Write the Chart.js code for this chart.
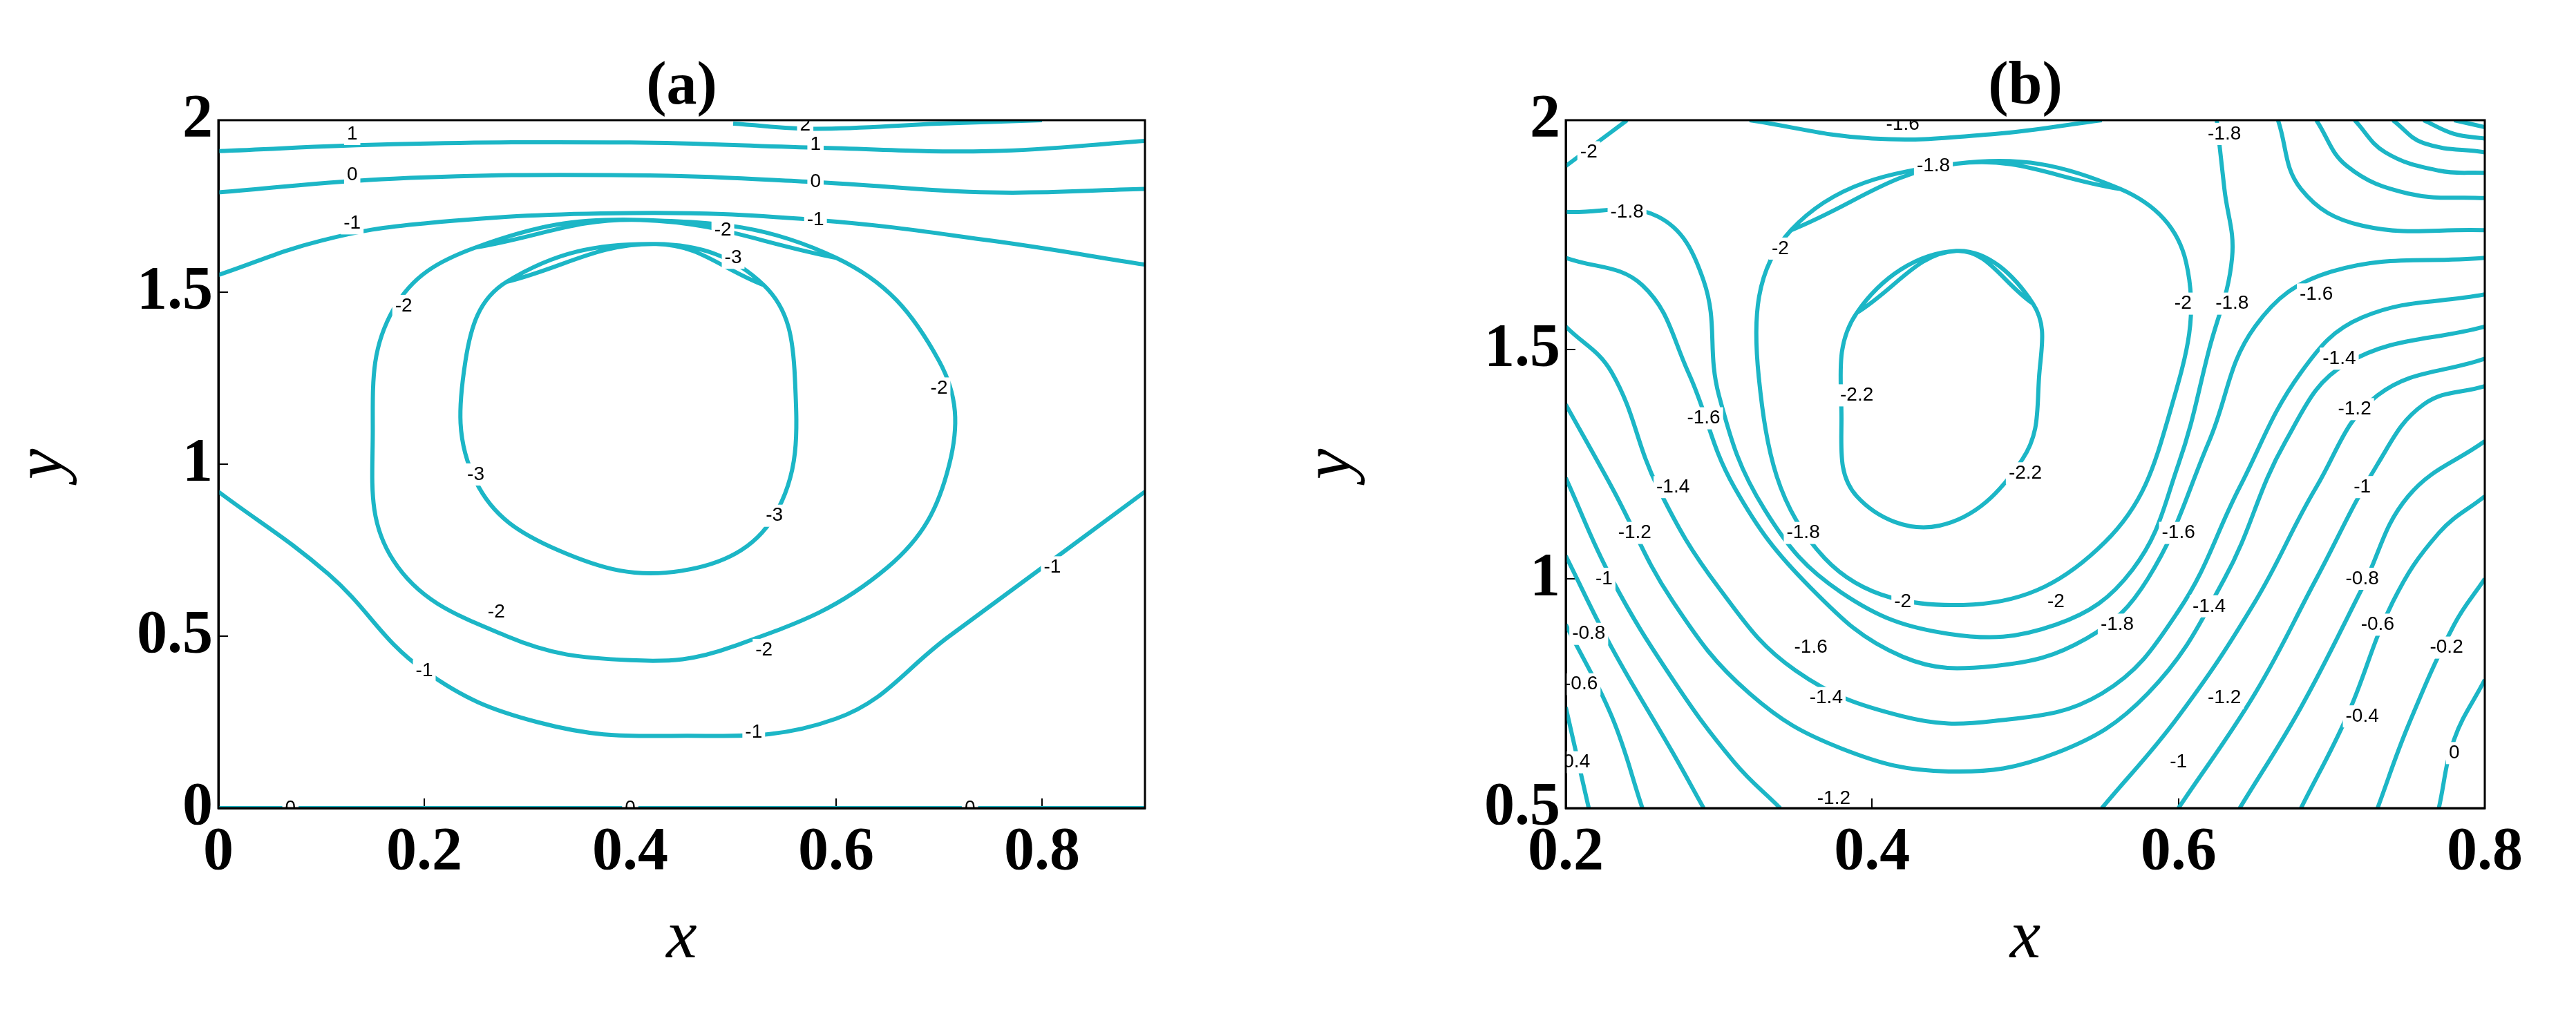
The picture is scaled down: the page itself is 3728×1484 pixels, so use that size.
<!DOCTYPE html>
<html><head><meta charset="utf-8">
<script src="https://cdn.jsdelivr.net/npm/chart.js@4.4.0/dist/chart.umd.min.js"></script>
<style>body{margin:0;background:#fff}canvas{position:absolute;top:0}</style>
</head><body>
<canvas id="ca" style="left:0"></canvas><canvas id="cb" style="left:1864px"></canvas>
<script>
// ---- Panel (a) contours [x,y]
const a_c2  = [[0.5,1.99],[0.58,1.975],[0.7,1.99],[0.8,2.0]];
const a_c1  = [[0,1.91],[0.17,1.93],[0.4,1.935],[0.58,1.92],[0.75,1.91],[0.9,1.94]];
const a_c0  = [[0,1.79],[0.17,1.83],[0.4,1.84],[0.58,1.82],[0.75,1.79],[0.9,1.8]];
const a_cm1 = [[0,1.55],[0.1,1.65],[0.2,1.7],[0.4,1.73],[0.58,1.71],[0.75,1.65],[0.9,1.58]];
const a_cm2 = [[0.41,1.71],[0.6,1.6],[0.7,1.3],[0.71,1.0],[0.65,0.7],[0.5,0.47],[0.4,0.43],[0.28,0.5],[0.17,0.72],[0.15,1.1],[0.17,1.45],[0.25,1.63],[0.41,1.71]];
const a_cm3 = [[0.425,1.64],[0.53,1.52],[0.56,1.25],[0.54,0.85],[0.45,0.69],[0.33,0.75],[0.25,0.95],[0.24,1.3],[0.28,1.53],[0.425,1.64]];
const a_cm1b= [[0,0.92],[0.107,0.68],[0.2,0.4],[0.31,0.25],[0.44,0.21],[0.6,0.26],[0.71,0.5],[0.9,0.92]];
const a_c0b = [[0,0.0],[0.9,0.0]];
const a_labels = [[0.13,1.96,'1'],[0.57,1.985,'2'],[0.58,1.93,'1'],[0.13,1.84,'0'],[0.58,1.82,'0'],[0.13,1.70,'-1'],[0.58,1.71,'-1'],
 [0.49,1.68,'-2'],[0.18,1.46,'-2'],[0.7,1.22,'-2'],[0.27,0.57,'-2'],[0.53,0.46,'-2'],[0.5,1.6,'-3'],[0.25,0.97,'-3'],[0.54,0.85,'-3'],
 [0.2,0.4,'-1'],[0.52,0.22,'-1'],[0.81,0.7,'-1'],[0.07,0.0,'0'],[0.4,0.0,'0'],[0.73,0.0,'0']];
// ---- Panel (b) contours
const b_m22 = [[0.455,1.715],[0.505,1.6],[0.509,1.44],[0.498,1.26],[0.444,1.116],[0.39,1.18],[0.38,1.35],[0.39,1.58],[0.455,1.715]];
const b_m20 = [[0.455,1.905],[0.562,1.85],[0.605,1.69],[0.595,1.37],[0.552,1.08],[0.466,0.944],[0.369,1.045],[0.326,1.44],[0.347,1.76],[0.455,1.905]];
const b_m20c= [[0.2,1.9],[0.22,1.95],[0.24,2.0]];
const b_m18 = [[0.2,1.8],[0.26,1.79],[0.29,1.65],[0.3,1.4],[0.33,1.15],[0.38,0.97],[0.45,0.88],[0.52,0.9],[0.57,1.02],[0.6,1.25],[0.62,1.5],[0.635,1.7],[0.63,1.85],[0.625,2.0]];
const b_m18t= [[0.32,2.0],[0.4,1.96],[0.48,1.97],[0.55,2.0]];
const b_m16 = [[0.2,1.70],[0.25,1.64],[0.28,1.45],[0.31,1.2],[0.36,0.98],[0.42,0.83],[0.48,0.81],[0.54,0.87],[0.58,1.0],[0.62,1.3],[0.65,1.55],[0.7,1.67],[0.8,1.7]];
const b_m14 = [[0.2,1.55],[0.23,1.45],[0.26,1.2],[0.3,0.98],[0.35,0.8],[0.42,0.7],[0.48,0.69],[0.55,0.75],[0.6,0.93],[0.64,1.2],[0.68,1.45],[0.72,1.57],[0.8,1.62]];
const b_m12 = [[0.2,1.38],[0.23,1.2],[0.27,0.95],[0.32,0.75],[0.38,0.63],[0.45,0.58],[0.52,0.62],[0.58,0.75],[0.63,1.0],[0.67,1.3],[0.71,1.47],[0.8,1.55]];
const b_m10 = [[0.2,1.22],[0.23,1.0],[0.27,0.78],[0.31,0.6],[0.34,0.5],null,[0.55,0.5],[0.6,0.7],[0.65,0.95],[0.69,1.2],[0.73,1.4],[0.8,1.48]];
const b_m08 = [[0.2,1.05],[0.23,0.85],[0.27,0.62],[0.29,0.5],null,[0.6,0.5],[0.65,0.75],[0.69,1.0],[0.73,1.25],[0.76,1.38],[0.8,1.42]];
const b_m06 = [[0.2,0.9],[0.23,0.7],[0.25,0.5],null,[0.64,0.5],[0.68,0.72],[0.72,0.98],[0.75,1.18],[0.8,1.3]];
const b_m04 = [[0.2,0.72],[0.215,0.5],null,[0.68,0.5],[0.71,0.7],[0.74,0.95],[0.77,1.1],[0.8,1.18]];
const b_m02 = [[0.73,0.5],[0.75,0.68],[0.78,0.9],[0.8,1.0]];
const b_z0  = [[0.77,0.5],[0.78,0.65],[0.8,0.78]];
const b_k1 = [[0.665,2.0],[0.68,1.85],[0.72,1.77],[0.8,1.76]];
const b_k2 = [[0.69,2.0],[0.71,1.9],[0.75,1.84],[0.8,1.83]];
const b_k3 = [[0.715,2.0],[0.735,1.93],[0.77,1.89],[0.8,1.885]];
const b_k4 = [[0.74,2.0],[0.76,1.95],[0.8,1.93]];
const b_k5 = [[0.76,2.0],[0.78,1.97],[0.8,1.96]];
const b_k6 = [[0.78,2.0],[0.8,1.985]];
const b_labels = [[0.215,1.93,'-2'],[0.24,1.8,'-1.8'],[0.42,1.99,'-1.6'],[0.44,1.9,'-1.8'],[0.63,1.97,'-1.8'],[0.34,1.72,'-2'],[0.603,1.6,'-2'],
 [0.635,1.6,'-1.8'],[0.39,1.4,'-2.2'],[0.5,1.23,'-2.2'],[0.42,0.95,'-2'],[0.52,0.95,'-2'],[0.355,1.1,'-1.8'],[0.56,0.9,'-1.8'],
 [0.29,1.35,'-1.6'],[0.27,1.2,'-1.4'],[0.245,1.1,'-1.2'],[0.225,1.0,'-1'],[0.215,0.88,'-0.8'],[0.21,0.77,'-0.6'],[0.205,0.6,'-0.4'],
 [0.36,0.85,'-1.6'],[0.37,0.74,'-1.4'],[0.375,0.52,'-1.2'],[0.6,1.1,'-1.6'],[0.62,0.94,'-1.4'],[0.63,0.74,'-1.2'],[0.6,0.6,'-1'],
 [0.69,1.62,'-1.6'],[0.705,1.48,'-1.4'],[0.715,1.37,'-1.2'],[0.72,1.2,'-1'],[0.72,1.0,'-0.8'],[0.73,0.9,'-0.6'],[0.72,0.7,'-0.4'],[0.775,0.85,'-0.2'],[0.78,0.62,'0']];
const closedSets=[a_cm2,a_cm3,b_m22,b_m20];

const COL='#1cb6c6';
function ds(arr){
  let pts=arr;
  if(closedSets.includes(arr)){pts=[arr[arr.length-2],...arr,arr[1]];}
  return {data:pts.map(p=>p?{x:p[0],y:p[1]}:{x:null,y:null}),showLine:true,borderColor:COL,borderWidth:6,pointRadius:0,tension:0.4,spanGaps:false,fill:false};}
const serif='"Liberation Serif","DejaVu Serif",serif';
function labelPlugin(labels,title){return {id:'lbl',afterDatasetsDraw(ch){
  const c=ch.ctx,xs=ch.scales.x,ys=ch.scales.y,a=ch.chartArea;
  c.save();c.beginPath();c.rect(a.left,a.top,a.right-a.left,a.bottom-a.top);c.clip();
  c.font='28px "Liberation Sans",Arial';c.textAlign='center';c.textBaseline='middle';
  labels.forEach(l=>{const x=xs.getPixelForValue(l[0]),y=ys.getPixelForValue(l[1]);const w=c.measureText(l[2]).width+8;
    c.fillStyle='#fff';c.fillRect(x-w/2,y-16,w,32);c.fillStyle='#000';c.fillText(l[2],x,y);});
  c.restore();
  c.save();c.strokeStyle='#000';c.lineWidth=3;c.strokeRect(a.left,a.top,a.right-a.left,a.bottom-a.top);
  c.font='bold 88px '+serif;c.fillStyle='#000';c.textAlign='center';c.textBaseline='alphabetic';
  c.fillText(title,(a.left+a.right)/2,150);c.restore();}};}
function make(id,sets,labels,title,xr,yr,xt,yt,pad){
  const el=document.getElementById(id);el.width=1864;el.height=1484;el.style.width='1864px';el.style.height='1484px';
  new Chart(el,{type:'scatter',data:{datasets:sets.map(ds)},
   options:{responsive:false,animation:false,devicePixelRatio:1,layout:{padding:{top:174,right:pad.r,left:0,bottom:60}},
    plugins:{legend:{display:false},tooltip:{enabled:false}},
    scales:{
     x:{type:'linear',min:xr[0],max:xr[1],afterBuildTicks:s=>{s.ticks=xt.map(v=>({value:v}));},afterFit:s=>{s.height=254;},
        grid:{display:true,drawOnChartArea:false,tickLength:-14,color:'#000',lineWidth:2},border:{color:'#000',width:3},
        ticks:{font:{family:serif,weight:'bold',size:88},color:'#000',padding:26,callback:v=>String(v)},
        title:{display:true,text:'x',font:{family:serif,style:'italic',size:100},color:'#000',padding:{top:0}}},
     y:{type:'linear',min:yr[0],max:yr[1],afterBuildTicks:s=>{s.ticks=yt.map(v=>({value:v}));},afterFit:s=>{s.width=pad.l;},
        grid:{display:true,drawOnChartArea:false,tickLength:-14,color:'#000',lineWidth:2},border:{color:'#000',width:3},
        ticks:{font:{family:serif,weight:'bold',size:88},color:'#000',padding:22,callback:v=>String(v)},
        title:{display:true,text:'y',font:{family:serif,style:'italic',size:100},color:'#000',padding:{bottom:10}}}}},
   plugins:[labelPlugin(labels,title)]});
}
make('ca',[a_c2,a_c1,a_c0,a_cm1,a_cm2,a_cm3,a_cm1b,a_c0b],a_labels,'(a)',[0,0.9],[0,2],[0,0.2,0.4,0.6,0.8],[0,0.5,1,1.5,2],{l:316,r:207});
make('cb',[b_m22,b_m20,b_m20c,b_m18,b_m18t,b_m16,b_m14,b_m12,b_m10,b_m08,b_m06,b_m04,b_m02,b_z0,b_k1,b_k2,b_k3,b_k4,b_k5,b_k6],b_labels,'(b)',[0.2,0.8],[0.5,2],[0.2,0.4,0.6,0.8],[0.5,1,1.5,2],{l:402,r:132});
</script></body></html>
